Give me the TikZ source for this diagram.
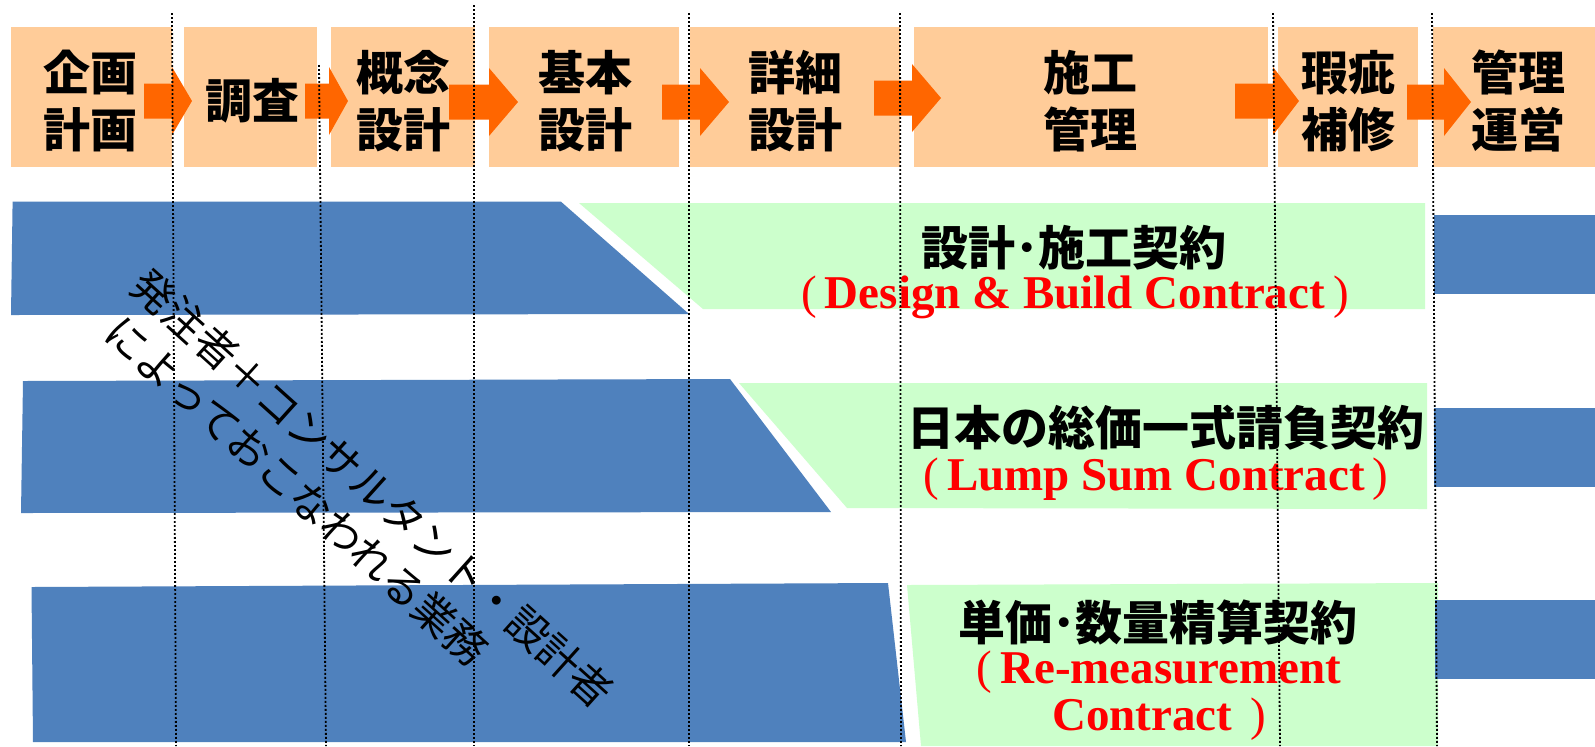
\documentclass[tikz,border=0pt]{standalone}
\usepackage{fontspec}
\newfontfamily\jp{Noto Sans CJK JP}
\newfontfamily\ser{Liberation Serif}
\definecolor{peach}{HTML}{FFCC99}
\definecolor{arrowor}{HTML}{FF6600}
\definecolor{bblue}{HTML}{4F81BD}
\definecolor{lgreen}{HTML}{CCFFCC}
\definecolor{redtxt}{HTML}{FF0000}
\begin{document}
\begin{tikzpicture}[x=0.5pt,y=-0.5pt,
  hdrbox/.style={fill=peach},
  blk/.style={fill=bblue},
  grn/.style={fill=lgreen},
  orarrow/.style={fill=arrowor},
  hdrtxt/.style={font={\jp\bfseries\fontsize{23.5pt}{28.25pt}\selectfont}, align=center, inner sep=0pt},
  ktxt/.style={font={\jp\bfseries\fontsize{23.5pt}{28pt}\selectfont}, inner sep=0pt},
  redt/.style={font={\ser\bfseries\fontsize{23.5pt}{23.5pt}\selectfont}, text=redtxt, inner sep=0pt, align=center},
  diagtxt/.style={font={\jp\fontsize{21pt}{25pt}\selectfont}, inner sep=0pt, anchor=west, rotate=-42},
  dotline/.style={line width=0.9pt, dash pattern=on 0.9pt off 1.1pt}
]
\useasboundingbox (0,0) rectangle (1595,746);
\fill[white] (0,0) rectangle (1595,746);

% header boxes
\fill[hdrbox] (11,27) rectangle (172,167);
\fill[hdrbox] (184,27) rectangle (317,167);
\fill[hdrbox] (331,27) rectangle (475,167);
\fill[hdrbox] (489,27) rectangle (679,167);
\fill[hdrbox] (690,27) rectangle (900,167);
\fill[hdrbox] (914,27) rectangle (1268,167);
\fill[hdrbox] (1278,27) rectangle (1418,167);
\fill[hdrbox] (1433,27) rectangle (1595,167);

% block arrows
\foreach \s/\b/\t/\c in {144/172/192/101, 305/329/348/101, 449/489/518/102, 662/700/729/102, 874/912/941/98, 1235/1273/1299/101, 1407/1444/1471/102}{
  \fill[orarrow] ({\s},{\c-17.5}) -- ({\b},{\c-17.5}) -- ({\b},{\c-34}) -- ({\t},{\c}) -- ({\b},{\c+34}) -- ({\b},{\c+17.5}) -- ({\s},{\c+17.5}) -- cycle;
}

% header texts
\node[hdrtxt] (h1) at (90,101) {企画\\計画};
\node[hdrtxt] (h2) at (252,101) {調査};
\node[hdrtxt] (h3) at (403,101) {概念\\設計};
\node[hdrtxt] (h4) at (585,101) {基本\\設計};
\node[hdrtxt] (h5) at (795,101) {詳細\\設計};
\node[hdrtxt] (h6) at (1090,101) {施工\\管理};
\node[hdrtxt] (h7) at (1348,101) {瑕疵\\補修};
\node[hdrtxt] (h8) at (1518,101) {管理\\運営};

% blue and green bands
\fill[blk] (12.6,201.7) -- (561,201.7) -- (689,314) -- (11,315) -- cycle;
\fill[grn] (579,203) -- (1425,203) -- (1425,309) -- (703,309) -- cycle;
\fill[blk] (1434,215) rectangle (1595,294);

\fill[blk] (23,381) -- (730,379) -- (831,512) -- (21,513) -- cycle;
\fill[grn] (739,383) -- (1427,383) -- (1427,509) -- (847,508) -- cycle;
\fill[blk] (1434,408) rectangle (1595,487);

\fill[blk] (31.5,587) -- (888,583) -- (906,742) -- (33,742) -- cycle;
\fill[grn] (907,585) -- (1438,583) -- (1438,746) -- (921,746) -- cycle;
\fill[blk] (1435,600) rectangle (1595,679);

% contract texts
\node[ktxt] (k1) at (1074,248) {設計･施工契約};
\node[redt, anchor=base] (r1) at (1075,308) {{\mdseries(}\kern4pt Design \& Build Contract\kern4pt{\mdseries)}};
\node[ktxt] (k2) at (1166,428) {日本の総価一式請負契約};
\node[redt, anchor=base] (r2) at (1156,490) {{\mdseries(}\kern4pt Lump Sum Contract\kern4pt{\mdseries)}};
\node[ktxt] (k3) at (1158,622) {単価･数量精算契約};
\node[redt, anchor=base] (r3) at (1159,730) {{\mdseries(}\kern4pt Re-measurement\\Contract\ \kern3pt{\mdseries)}};

% diagonal text
\node[diagtxt] (dg1) at (138,277) {発注者＋コンサルタント・設計者};
\node[diagtxt] (dg2) at (112,324) {によっておこなわれる業務};

% dotted phase lines
\coordinate (d1a) at (172,13);   \coordinate (d1b) at (176,746);
\coordinate (d2a) at (319,65);   \coordinate (d2b) at (326,746);
\coordinate (d3a) at (474,5);    \coordinate (d3b) at (474,746);
\coordinate (d4a) at (689,13);   \coordinate (d4b) at (689,746);
\coordinate (d5a) at (900,13);   \coordinate (d5b) at (901,746);
\coordinate (d6a) at (1273,13);  \coordinate (d6b) at (1280,746);
\coordinate (d7a) at (1432,13);  \coordinate (d7b) at (1437,746);
\foreach \i in {1,...,7}{ \draw[dotline] (d\i a) -- (d\i b); }
\end{tikzpicture}
\end{document}
